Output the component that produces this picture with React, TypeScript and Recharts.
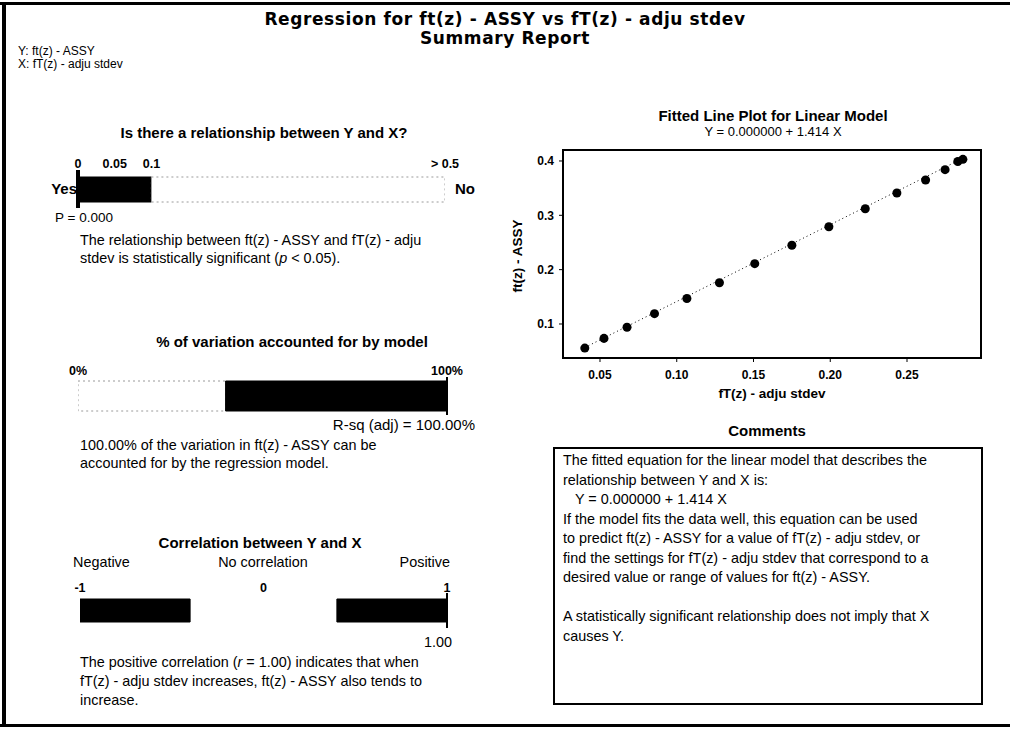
import React from 'react';
import {
  ScatterChart, Scatter, BarChart, Bar, XAxis, YAxis, Label,
  ReferenceLine, ReferenceArea,
} from 'recharts';

// Fitted line plot: ft(z) - ASSY vs fT(z) - adju stdev
const fTValues = [0.0401, 0.0526, 0.0676, 0.0855, 0.1066, 0.1278, 0.1508, 0.175, 0.1991, 0.2228, 0.2434, 0.2621, 0.2748, 0.2831, 0.2864];
const ftValues = [0.0556, 0.0735, 0.094, 0.119, 0.147, 0.176, 0.211, 0.245, 0.279, 0.312, 0.341, 0.365, 0.384, 0.399, 0.403];
const xTicks = [0.05, 0.1, 0.15, 0.2, 0.25];
const yTicks = [0.1, 0.2, 0.3, 0.4];
const xDomain = [0.0259, 0.2982];
const yDomain = [0.0374, 0.4202];
const intercept = 0.0;
const slope = 1.414;

// Summary bars
const pTicks = [0, 0.05, 0.1, 0.5];
const pZones = { sig: 0.1, notSig: 0.4 };
const pValue = 0.0;

const rsqTicks = [0, 100];
const rsqZones = { low: 40, high: 60 };
const rsqAdj = 100.0;

const rTicks = [-1, 0, 1];
const rZones = { weakNeg: -0.4, strongNeg: -0.6, weakPos: 0.4, strongPos: 0.6 };
const rValue = 1.0;

const commentLines = [
  'The fitted equation for the linear model that describes the',
  'relationship between Y and X is:',
  '\u00a0\u00a0\u00a0Y =  0.000000 + 1.414 X',
  'If the model fits the data well, this equation can be used',
  'to predict ft(z) - ASSY for a value of fT(z) - adju stdev, or',
  'find the settings for fT(z) - adju stdev that correspond to a',
  'desired value or range of values for ft(z) - ASSY.',
  '\u00a0',
  'A statistically significant relationship does not imply that X',
  'causes Y.',
];

const FONT = "'Liberation Sans', Arial, sans-serif";
const TITLE_FONT = "'DejaVu Sans', 'Liberation Sans', sans-serif";
const BODY = 14.4;
const HEAD = 15;

function Txt(props: any) {
  const { x, y, size = BODY, bold = false, align = 'left', font, spacing, children } = props;
  const h = Math.round(size * 1.2);
  let tx: string | undefined = undefined;
  if (align === 'center') tx = 'translateX(-50%)';
  if (align === 'right') tx = 'translateX(-100%)';
  return (
    <div style={{
      position: 'absolute', left: x, top: y - h / 2, lineHeight: h + 'px',
      fontSize: size, fontWeight: bold ? 700 : 400, transform: tx, whiteSpace: 'nowrap',
      fontFamily: font, letterSpacing: spacing,
    }}>{children}</div>
  );
}

// one horizontal summary bar, drawn as a stacked vertical-layout bar chart
function BarPanel(props: any) {
  const { left, right, top, bottom, barSize, domain, ticks, fmt, data, bars, marker, markerWidth, tickMargin, stackOffset } = props;
  const pad = 30;
  const axisH = 25;
  return (
    <div style={{ position: 'absolute', left: left - pad, top: top - axisH }}>
      <BarChart
        layout="vertical"
        width={right - left + 2 * pad}
        height={bottom - top + axisH}
        data={data}
        margin={{ top: 0, right: pad, bottom: 0, left: pad }}
        barSize={barSize}
        stackOffset={stackOffset}
      >
        <XAxis
          type="number" orientation="top" domain={domain} ticks={ticks} tickFormatter={fmt}
          height={axisH} axisLine={false} tickLine={false} tickSize={0} tickMargin={tickMargin}
          tick={{ fontSize: 12.5, fontWeight: 700, fill: '#000', fontFamily: FONT }} interval={0} allowDataOverflow
        />
        <YAxis type="category" dataKey="name" hide />
        {bars.map((b: any) => (
          <Bar key={b.key} dataKey={b.key} stackId="s" fill={b.fill} stroke={b.stroke}
            strokeDasharray={b.dash} isAnimationActive={false} />
        ))}
        <ReferenceLine x={marker} stroke="#000" strokeWidth={markerWidth} />
      </BarChart>
    </div>
  );
}

export default function App() {
  const points = fTValues.map((x, i) => ({ x, y: ftValues[i] }));
  const xMin = Math.min(...fTValues);
  const xMax = Math.max(...fTValues);

  const whiteZone = { fill: '#fff', stroke: '#9a9a9a', dash: '2 3' };
  const plainWhite = { fill: '#fff', stroke: 'none' };
  const blackZone = { fill: '#000', stroke: '#000' };

  return (
    <div style={{
      position: 'absolute', left: 0, top: 0, width: 1010, height: 729, background: '#fff',
      fontFamily: FONT, color: '#000', overflow: 'hidden',
    }}>
      {/* frame */}
      <div style={{ position: 'absolute', left: 0, top: 2, width: 1010, height: 3, background: '#000' }} />
      <div style={{ position: 'absolute', left: 2, top: 2, width: 4, height: 725, background: '#000' }} />
      <div style={{ position: 'absolute', left: 0, top: 724, width: 1010, height: 3, background: '#000' }} />

      <Txt x={505} y={19} size={17} bold align="center" font={TITLE_FONT} spacing={0.6}>Regression for ft(z) - ASSY vs fT(z) - adju stdev</Txt>
      <Txt x={505} y={38} size={17} bold align="center" font={TITLE_FONT} spacing={0.6}>Summary Report</Txt>
      <Txt x={18} y={51} size={12}>Y: ft(z) - ASSY</Txt>
      <Txt x={18} y={64} size={12}>X: fT(z) - adju stdev</Txt>

      {/* relationship panel */}
      <Txt x={264} y={133} size={HEAD} bold align="center">Is there a relationship between Y and X?</Txt>
      <BarPanel
        left={78} right={445} top={170} bottom={208} barSize={25}
        domain={[0, 0.5]} ticks={pTicks} fmt={(v: number) => (v === 0.5 ? '> 0.5' : String(v))}
        data={[{ name: 'p', ...pZones }]}
        bars={[{ key: 'sig', ...blackZone }, { key: 'notSig', ...whiteZone }]}
        marker={pValue} markerWidth={4} tickMargin={2}
      />
      <Txt x={77} y={189} size={15} bold align="right">Yes</Txt>
      <Txt x={455} y={189} size={15} bold>No</Txt>
      <Txt x={55} y={218} size={13.5}>P = {pValue.toFixed(3)}</Txt>
      <Txt x={80} y={240}>The relationship between ft(z) - ASSY and fT(z) - adju</Txt>
      <Txt x={80} y={258}>stdev is statistically significant (<i>p</i> &lt; 0.05).</Txt>

      {/* R-sq panel */}
      <Txt x={292} y={342} size={HEAD} bold align="center">% of variation accounted for by model</Txt>
      <BarPanel
        left={78} right={447} top={377} bottom={415} barSize={30}
        domain={[0, 100]} ticks={rsqTicks} fmt={(v: number) => v + '%'}
        data={[{ name: 'rsq', ...rsqZones }]}
        bars={[{ key: 'low', ...whiteZone }, { key: 'high', ...blackZone }]}
        marker={rsqAdj} markerWidth={2} tickMargin={2}
      />
      <Txt x={475} y={425} size={15} align="right">R-sq (adj) = {rsqAdj.toFixed(2)}%</Txt>
      <Txt x={80} y={445}>100.00% of the variation in ft(z) - ASSY can be</Txt>
      <Txt x={80} y={463}>accounted for by the regression model.</Txt>

      {/* correlation panel */}
      <Txt x={260} y={543} size={HEAD} bold align="center">Correlation between Y and X</Txt>
      <Txt x={73} y={562}>Negative</Txt>
      <Txt x={263} y={562} align="center">No correlation</Txt>
      <Txt x={450} y={562} align="right">Positive</Txt>
      <BarPanel
        left={80} right={447} top={593} bottom={628} barSize={23}
        domain={[-1, 1]} ticks={rTicks} fmt={(v: number) => String(v)}
        data={[{ name: 'r', ...rZones }]}
        bars={[
          { key: 'weakNeg', ...plainWhite }, { key: 'strongNeg', ...blackZone },
          { key: 'weakPos', ...plainWhite }, { key: 'strongPos', ...blackZone },
        ]}
        marker={rValue} markerWidth={2} tickMargin={1} stackOffset="sign"
      />
      <Txt x={452} y={642} align="right">{rValue.toFixed(2)}</Txt>
      <Txt x={80} y={662}>The positive correlation (<i>r</i> = 1.00) indicates that when</Txt>
      <Txt x={80} y={681}>fT(z) - adju stdev increases, ft(z) - ASSY also tends to</Txt>
      <Txt x={80} y={700}>increase.</Txt>

      {/* fitted line plot */}
      <Txt x={773} y={116} size={HEAD} bold align="center">Fitted Line Plot for Linear Model</Txt>
      <Txt x={773} y={132} size={13} align="center">Y =  0.000000 + 1.414 X</Txt>
      <div style={{ position: 'absolute', left: 500, top: 140 }}>
        <ScatterChart width={500} height={270} margin={{ top: 10, right: 19, bottom: 0, left: 0 }}>
          <XAxis
            type="number" dataKey="x" domain={xDomain} ticks={xTicks} tickFormatter={(v: number) => v.toFixed(2)}
            height={52} axisLine={false} tickSize={4} tickMargin={8} tickLine={{ stroke: '#000' }}
            tick={{ fontSize: 12, fontWeight: 700, fill: '#000', fontFamily: FONT }} allowDataOverflow
          >
            <Label value="fT(z) - adju stdev" position="insideBottom" offset={12}
              style={{ fontSize: 13.5, fontWeight: 700, fill: '#000', fontFamily: FONT }} />
          </XAxis>
          <YAxis
            type="number" dataKey="y" domain={yDomain} ticks={yTicks} tickFormatter={(v: number) => v.toFixed(1)}
            width={63} axisLine={false} tickSize={4} tickMargin={5} tickLine={{ stroke: '#000' }}
            tick={{ fontSize: 12, fontWeight: 700, fill: '#000', fontFamily: FONT }} allowDataOverflow
          >
            <Label content={(p: any) => {
              const vb = p.viewBox || { x: 0, y: 10, height: 208 };
              const cx = vb.x + 17;
              const cy = vb.y + vb.height / 2 + 2;
              return (
                <text x={cx} y={cy} transform={`rotate(-90 ${cx} ${cy})`} textAnchor="middle"
                  dominantBaseline="central" fontSize={13.5} fontWeight={700} fontFamily={FONT}>ft(z) - ASSY</text>
              );
            }} />
          </YAxis>
          <ReferenceArea x1={xDomain[0]} x2={xDomain[1]} y1={yDomain[0]} y2={yDomain[1]}
            fill="none" stroke="#000" strokeWidth={2} />
          <ReferenceLine
            segment={[{ x: xMin, y: intercept + slope * xMin }, { x: xMax, y: intercept + slope * xMax }]}
            stroke="#000" strokeDasharray="1 3"
          />
          <Scatter data={points} fill="#000" isAnimationActive={false} />
        </ScatterChart>
      </div>

      {/* comments */}
      <Txt x={767} y={431} size={HEAD} bold align="center">Comments</Txt>
      <div style={{
        position: 'absolute', left: 553, top: 447, width: 426, height: 254, border: '2px solid #000',
      }} />
      <div style={{ position: 'absolute', left: 563, top: 451, fontSize: BODY, lineHeight: '19.5px', whiteSpace: 'nowrap' }}>
        {commentLines.map((l, i) => <div key={i}>{l}</div>)}
      </div>
    </div>
  );
}
